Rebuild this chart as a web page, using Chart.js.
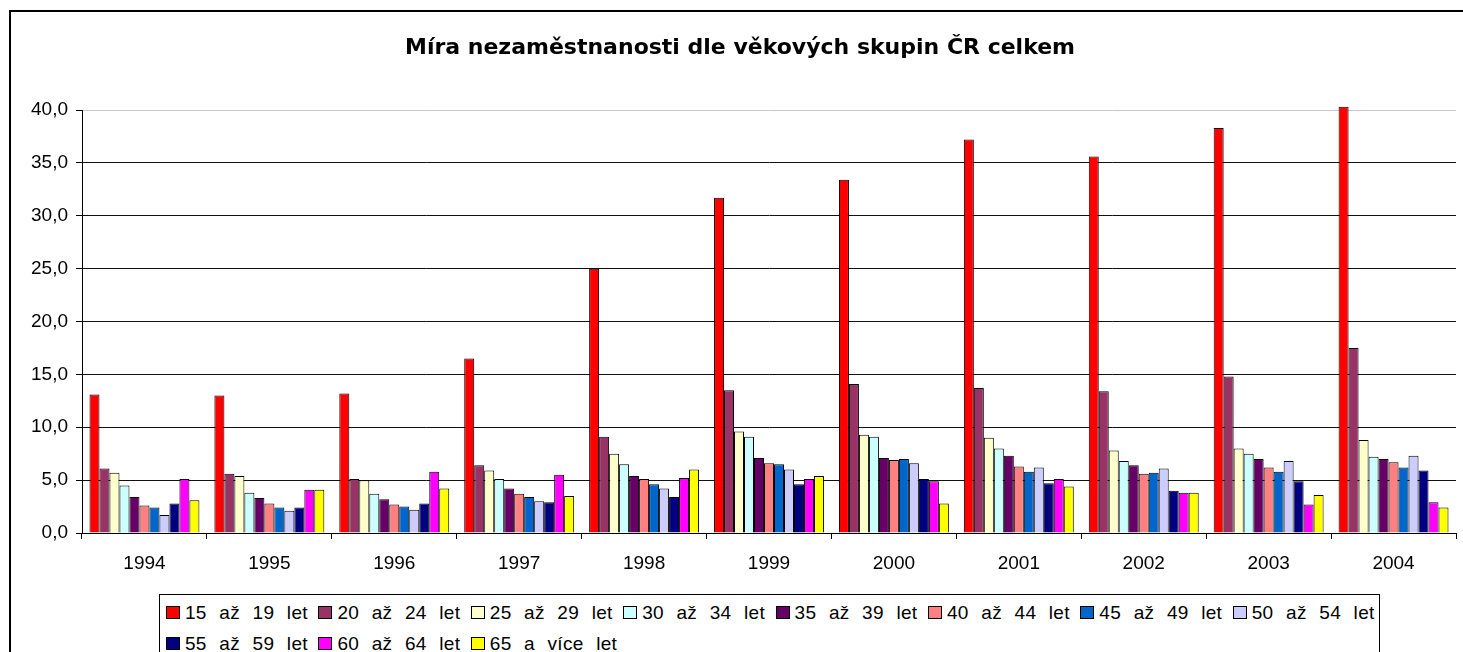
<!DOCTYPE html>
<html>
<head>
<meta charset="utf-8">
<script src="https://cdn.jsdelivr.net/npm/chart.js@4.4.1/dist/chart.umd.min.js"></script>
<style>
  html, body { margin: 0; padding: 0; background: #fff; overflow: hidden; }
  #wrap { position: relative; width: 1463px; height: 652px; overflow: hidden; }
  #frame { position: absolute; left: 9px; top: 10px; width: 1480px; height: 700px; border: 2px solid #000; box-sizing: border-box; }
  #chart { position: absolute; left: 0; top: 0; }
  #legend {
    position: absolute; left: 159px; top: 594px; width: 1221px; height: 80px;
    border: 1px solid #000; box-sizing: border-box; background: #fff;
    display: grid; grid-template-columns: repeat(8, 152.4px); grid-auto-rows: 31px;
    padding: 2px 0 0 6px;
    font-family: "Liberation Sans", Arial, sans-serif; font-size: 19px; color: #000;
  }
  .item { display: flex; align-items: center; white-space: nowrap; }
  .swatch { width: 14px; height: 13px; border: 1px solid #000; box-sizing: border-box; margin-right: 5px; flex: none; }
  .txt { letter-spacing: 0.3px; word-spacing: 7px; }
</style>
</head>
<body>
<div id="wrap">
  <div id="frame"></div>
  <canvas id="chart" width="1463" height="652"></canvas>
  <div id="legend"></div>
</div>
<script>
const years = ['1994', '1995', '1996', '1997', '1998', '1999', '2000', '2001', '2002', '2003', '2004'];
const ageGroups = ['15 až 19 let', '20 až 24 let', '25 až 29 let', '30 až 34 let', '35 až 39 let',
  '40 až 44 let', '45 až 49 let', '50 až 54 let', '55 až 59 let', '60 až 64 let', '65 a více let'];

// míra nezaměstnanosti v % podle věkové skupiny
const age15to19 = [13.1, 13.0, 13.2, 16.5, 25.0, 31.7, 33.4, 37.2, 35.6, 38.3, 40.3];
const age20to24 = [6.1, 5.6, 5.1, 6.4, 9.1, 13.5, 14.1, 13.7, 13.4, 14.8, 17.5];
const age25to29 = [5.7, 5.4, 5.0, 5.9, 7.5, 9.6, 9.3, 9.0, 7.8, 8.0, 8.8];
const age30to34 = [4.5, 3.8, 3.7, 5.1, 6.5, 9.1, 9.1, 8.0, 6.8, 7.5, 7.2];
const age35to39 = [3.4, 3.3, 3.2, 4.2, 5.4, 7.1, 7.1, 7.3, 6.4, 7.0, 7.0];
const age40to44 = [2.6, 2.8, 2.7, 3.7, 5.1, 6.6, 6.9, 6.3, 5.6, 6.2, 6.7];
const age45to49 = [2.4, 2.4, 2.5, 3.4, 4.6, 6.5, 7.0, 5.8, 5.7, 5.8, 6.2];
const age50to54 = [1.7, 2.1, 2.2, 3.0, 4.2, 6.0, 6.6, 6.2, 6.1, 6.8, 7.3];
const age55to59 = [2.8, 2.4, 2.8, 2.9, 3.4, 4.6, 5.1, 4.7, 4.0, 4.9, 5.9];
const age60to64 = [5.1, 4.1, 5.8, 5.5, 5.2, 5.1, 4.9, 5.1, 3.8, 2.7, 2.9];
const age65plus = [3.1, 4.1, 4.2, 3.5, 6.0, 5.4, 2.8, 4.4, 3.8, 3.6, 2.4];

const seriesValues = [age15to19, age20to24, age25to29, age30to34, age35to39, age40to44,
  age45to49, age50to54, age55to59, age60to64, age65plus];
const barColors = ['#FF0000', '#993366', '#FFFFCC', '#CCFFFF', '#660066', '#FF8080',
  '#0066CC', '#CCCCFF', '#000080', '#FF00FF', '#FFFF00'];

Chart.defaults.font.family = '"Liberation Sans", Arial, sans-serif';
Chart.defaults.color = '#000';

const datasets = ageGroups.map((label, i) => ({
  label: label,
  data: seriesValues[i],
  backgroundColor: barColors[i],
  borderColor: '#000',
  borderWidth: 1,
  categoryPercentage: 0.88,
  barPercentage: 1.0,
  clip: false,
}));

const chart = new Chart(document.getElementById('chart'), {
  type: 'bar',
  data: { labels: years, datasets },
  options: {
    responsive: false,
    animation: false,
    layout: { padding: { left: 24, right: 7, top: 0, bottom: 79 } },
    plugins: {
      legend: { display: false },
      tooltip: { enabled: false },
      title: {
        display: true,
        text: 'Míra nezaměstnanosti dle věkových skupin ČR celkem',
        color: '#000',
        font: { family: '"DejaVu Sans", sans-serif', weight: 'bold', size: 22 },
        padding: { top: 35, bottom: 48.6 },
      },
    },
    scales: {
      x: {
        grid: { display: true, drawOnChartArea: false, drawTicks: true, tickLength: 6, color: '#000', offset: true },
        border: { display: true, color: '#000', width: 1 },
        ticks: { font: { size: 19 }, color: '#000', padding: 13 },
        afterFit: (scale) => { scale.height = 40; },
      },
      y: {
        min: 0,
        max: 40,
        ticks: {
          stepSize: 5,
          font: { size: 19 },
          color: '#000',
          padding: 8,
          callback: (v) => v.toFixed(1).replace('.', ','),
        },
        grid: {
          color: (ctx) => (ctx.tick && ctx.tick.value === 40 ? '#c8c8c8' : '#111'),
          tickColor: '#000',
          tickLength: 6,
        },
        border: { display: true, color: '#000', width: 1 },
        afterFit: (scale) => { scale.width = 58; },
      },
    },
  },
});

// legenda jako HTML, rozložení jako v Excelu
const legendEl = document.getElementById('legend');
chart.data.datasets.forEach((ds) => {
  const item = document.createElement('div');
  item.className = 'item';
  const sw = document.createElement('span');
  sw.className = 'swatch';
  sw.style.background = ds.backgroundColor;
  const txt = document.createElement('span');
  txt.className = 'txt';
  txt.textContent = ds.label;
  item.appendChild(sw);
  item.appendChild(txt);
  legendEl.appendChild(item);
});
</script>
</body>
</html>
